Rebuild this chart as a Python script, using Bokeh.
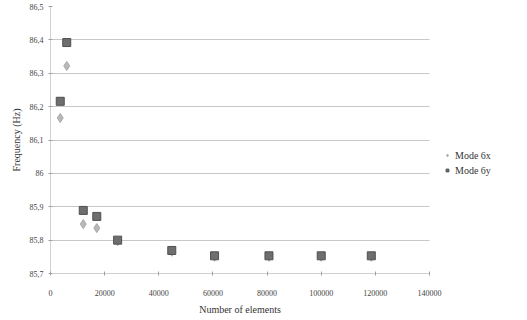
from bokeh.plotting import figure
from bokeh.models import Range1d, FixedTicker, Legend, LegendItem
from bokeh.embed import file_html
from bokeh.resources import INLINE

# Data
elements = [3600, 6000, 12100, 17100, 24800, 44800, 60600, 80700, 100000, 118500]
mode_6x = [86.166, 86.322, 85.848, 85.836, 85.797, 85.765, 85.750, 85.750, 85.750, 85.750]
mode_6y = [86.216, 86.392, 85.889, 85.871, 85.800, 85.769, 85.753, 85.753, 85.753, 85.753]

x_ticks = [0, 20000, 40000, 60000, 80000, 100000, 120000, 140000]
x_tick_labels = ["0", "20000", "40000", "60000", "80000", "100000", "120000", "140000"]
y_ticks = [85.7, 85.8, 85.9, 86.0, 86.1, 86.2, 86.3, 86.4, 86.5]
y_tick_labels = ["85,7", "85,8", "85,9", "86", "86,1", "86,2", "86,3", "86,4", "86,5"]

FONT = "Liberation Serif"

p = figure(frame_width=379, frame_height=267, output_backend="svg", toolbar_location=None,
           x_range=Range1d(0, 140000), y_range=Range1d(85.7, 86.5),
           min_border_left=50, min_border_right=10, min_border_top=6, min_border_bottom=31)
p.outline_line_color = None
p.background_fill_color = "white"

p.xaxis.ticker = FixedTicker(ticks=x_ticks)
p.yaxis.ticker = FixedTicker(ticks=y_ticks)
p.xaxis.major_label_overrides = {t: l for t, l in zip(x_ticks, x_tick_labels)}
p.yaxis.major_label_overrides = {t: l for t, l in zip(y_ticks, y_tick_labels)}

for ax in (p.xaxis, p.yaxis):
    ax.axis_line_color = "#a0a0a0"
    ax.axis_line_dash = "1 1"
    ax.major_tick_line_color = "#a0a0a0"
    ax.minor_tick_line_color = None
    ax.major_label_text_font = FONT
    ax.major_label_text_font_size = "8px"
    ax.major_label_text_color = "#444444"
    ax.axis_label_text_font = FONT
    ax.axis_label_text_font_size = "10px"
    ax.axis_label_text_font_style = "normal"
    ax.axis_label_text_color = "#333333"
    ax.major_tick_in = 2
    ax.major_tick_out = 2

p.xaxis.axis_label = "Number of elements"
p.yaxis.axis_label = "Frequency (Hz)"
p.xaxis.major_label_standoff = 14
p.xaxis.axis_label_standoff = 5
p.yaxis.major_label_standoff = 5
p.yaxis.axis_label_standoff = 5

p.xgrid.grid_line_color = None
p.ygrid.grid_line_color = "#909090"
p.ygrid.grid_line_dash = "1 1"

r_x = p.scatter(elements, mode_6x, marker="diamond", size=9,
                fill_color="#b8b8b8", line_color="#a8a8a8")
r_y = p.scatter(elements, mode_6y, marker="square", size=8,
                fill_color="#6e6e6e", line_color="#505050")

legend = Legend(items=[LegendItem(label="Mode 6x", renderers=[r_x]),
                       LegendItem(label="Mode 6y", renderers=[r_y])],
                location="center_left", orientation="vertical")
legend.title = " "
legend.title_text_font_size = "36px"
legend.title_standoff = 4
legend.label_text_font = FONT
legend.label_text_font_size = "10px"
legend.label_text_color = "#333333"
legend.border_line_color = None
legend.background_fill_alpha = 0
legend.glyph_width = 16
legend.glyph_height = 7
legend.spacing = 3
legend.padding = 11
legend.margin = 10
legend.label_standoff = 0
legend.label_height = 12
p.add_layout(legend, "right")

open("out.html", "w").write(file_html(p, INLINE))
